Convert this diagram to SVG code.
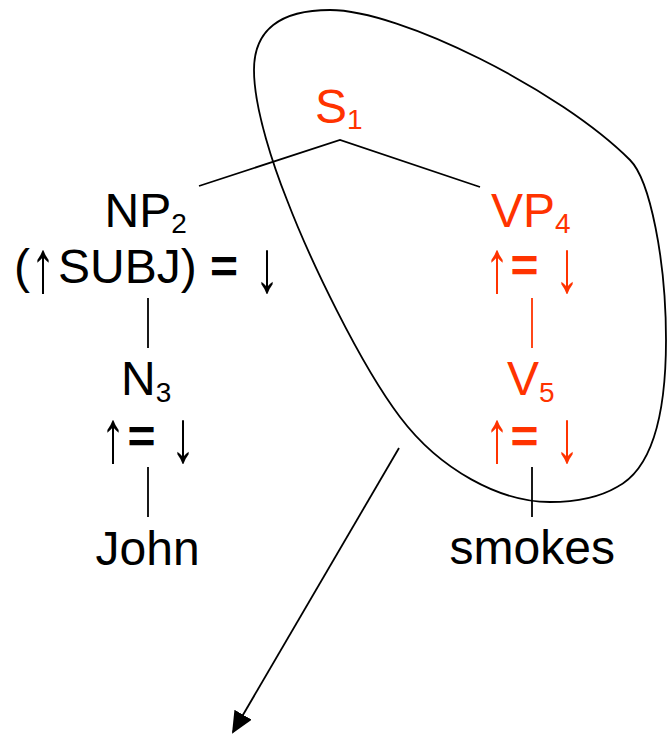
<svg xmlns="http://www.w3.org/2000/svg" width="667" height="739" viewBox="0 0 667 739">
<style>
text{font-family:"Liberation Sans",Arial,sans-serif;font-size:48px;fill:#000}
.r{fill:#FF3300}
.sub{font-size:28px}
.eq{font-weight:bold}
.ln{stroke:#000;stroke-width:1.8;fill:none}
.rl{stroke:#FF3300;stroke-width:1.8;fill:none}
</style>
<defs>
<marker id="ah" markerUnits="userSpaceOnUse" markerWidth="24" markerHeight="22" refX="20" refY="10" orient="auto">
<path d="M0,0 L22,10 L0,20 Z" fill="#000"/>
</marker>
</defs>
<rect width="667" height="739" fill="#fff"/>
<g id="connectors">
<path class="ln" d="M199,186 L340,140 L480,187"/>
<line class="ln" x1="148" y1="298" x2="148" y2="348"/>
<line class="ln" x1="148" y1="467" x2="148" y2="517"/>
<line class="rl" x1="532" y1="298" x2="532" y2="348"/>
<line class="ln" x1="532" y1="467" x2="532" y2="517"/>
<path id="region" class="ln" d="M330,10 C400,10 560,90 630,160 C650,180 666,260 666,340 C666,420 650,470 617,487 C600,497 580,502 550,502 C500,502 440,470 400,417 C360,364 310,260 287,200 C275,170 254,110 254,70 C254,30 280,10 330,10 Z"/>
<line class="ln" x1="399" y1="448" x2="233" y2="732" marker-end="url(#ah)"/>
</g>
<g id="S1"><text class="r" x="315" y="123">S<tspan class="sub" dy="6">1</tspan></text></g>
<g id="NP2"><text x="104.5" y="227">NP<tspan class="sub" dy="6">2</tspan></text>
<text x="14" y="283">(</text>
<text transform="translate(31,291.5) scale(1,1.54)">↑</text>
<text x="58" y="283">SUBJ) <tspan class="eq">=</tspan></text>
<text transform="translate(255,291.5) scale(1,1.54)">↓</text></g>
<g id="N3"><text x="121" y="395">N<tspan class="sub" dy="7">3</tspan></text>
<text transform="translate(101,461.5) scale(1,1.54)">↑</text>
<text class="eq" x="127.5" y="453">=</text>
<text transform="translate(171,461.5) scale(1,1.54)">↓</text></g>
<g id="John"><text x="95.5" y="565">John</text></g>
<g id="VP4"><text class="r" x="491" y="227">VP<tspan class="sub" dy="6">4</tspan></text>
<text class="r" transform="translate(485,291.5) scale(1,1.54)">↑</text>
<text class="r eq" x="510.5" y="282">=</text>
<text class="r" transform="translate(555,291.5) scale(1,1.54)">↓</text></g>
<g id="V5"><text class="r" x="507" y="395">V<tspan class="sub" dy="7">5</tspan></text>
<text class="r" transform="translate(485,461.5) scale(1,1.54)">↑</text>
<text class="r eq" x="510.5" y="453">=</text>
<text class="r" transform="translate(555,461.5) scale(1,1.54)">↓</text></g>
<g id="smokes"><text x="449.5" y="564">smokes</text></g>
</svg>
